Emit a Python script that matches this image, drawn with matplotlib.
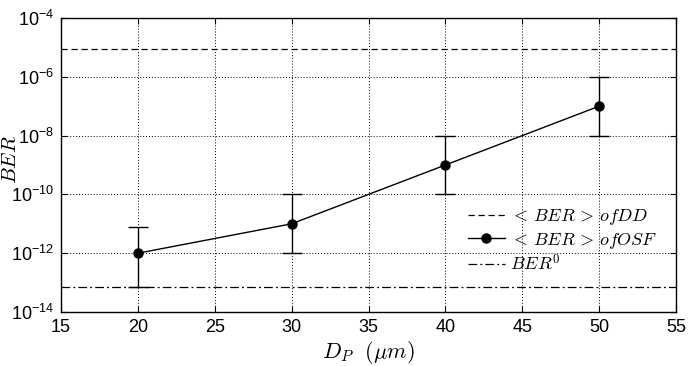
import numpy as np
import matplotlib
matplotlib.use("Agg")
import matplotlib.pyplot as plt

# Datos
dp = [20, 30, 40, 50]
ber_osf = [1e-12, 1e-11, 1e-9, 1e-7]
ber_low = [7e-14, 1e-12, 1e-10, 1e-8]
ber_high = [8e-12, 1e-10, 1e-8, 1e-6]
ber_dd = 8.8e-6
ber_0 = 7.2e-14

x_ticks = [15, 20, 25, 30, 35, 40, 45, 50, 55]
y_exps = [-4, -6, -8, -10, -12, -14]

plt.rcParams["font.family"] = ["Liberation Sans", "DejaVu Sans"]
plt.rcParams["mathtext.fontset"] = "cm"

fig = plt.figure(figsize=(6.9, 3.66), dpi=100)
ax = fig.add_axes([61 / 690, 1 - 312 / 366, 615 / 690, 294 / 366])

ax.set_yscale("log")
ax.set_xlim(15, 55)
ax.set_ylim(1e-14, 1e-4)

# Lineas de referencia
h_dd = ax.axhline(ber_dd, color="k", linestyle=(0, (5, 3)), linewidth=0.9,
                  label=r"$<\,BER\,>\,ofDD$")

yerr = [np.array(ber_osf) - np.array(ber_low),
        np.array(ber_high) - np.array(ber_osf)]
ax.errorbar(dp, ber_osf, yerr=yerr, color="k", fmt="none",
            elinewidth=1.0, capsize=7, capthick=1.0)
h_osf, = ax.plot(dp, ber_osf, color="k", marker="o", markersize=6.5,
                 linewidth=1.0, label=r"$<\,BER\,>\,ofOSF$")

h_0 = ax.axhline(ber_0, color="k", linestyle=(0, (7, 2.5, 1.5, 2.5)),
                 linewidth=0.9, label=r"$BER^0$")

# Ejes
ax.set_xticks(x_ticks)
ax.set_xticklabels([str(t) for t in x_ticks], fontsize=13)
ax.set_yticks([10.0 ** e for e in y_exps])
ax.set_yticklabels([r"$\mathregular{10^{%d}}$" % e for e in y_exps], fontsize=13)
ax.minorticks_off()
ax.tick_params(direction="in", top=True, right=True, length=4, width=0.8,
               pad=5)

ax.grid(True, which="major", color="k", linestyle=(0, (1, 2)), linewidth=0.7)

ax.set_xlabel(r"$D_P\ \ (\mu m)$", fontsize=16, labelpad=2)
ax.set_ylabel(r"$BER$", fontsize=15)
ax.yaxis.set_label_coords(-0.066, 0.52)

for s in ax.spines.values():
    s.set_linewidth(1.0)

leg = ax.legend(handles=[h_dd, h_osf, h_0], loc="upper right",
                bbox_to_anchor=(0.99, 0.40), frameon=False,
                fontsize=13, handlelength=2.0, handletextpad=0.3,
                labelspacing=0.2, borderpad=0.2)

fig.savefig("out.png", dpi=100)
